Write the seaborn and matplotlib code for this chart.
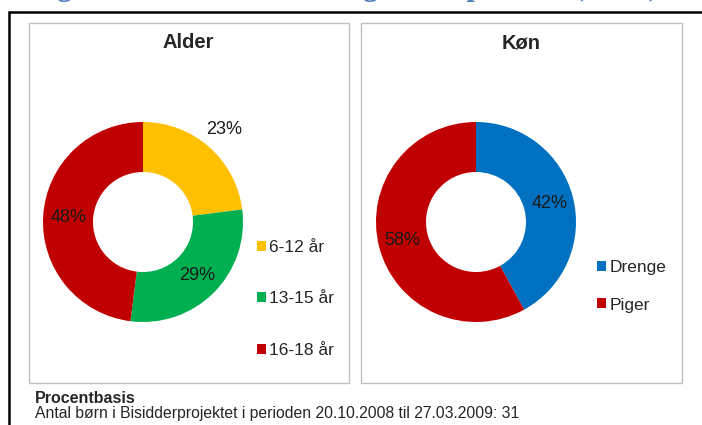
import numpy as np
import matplotlib.pyplot as plt
from matplotlib.patches import Rectangle
from matplotlib.lines import Line2D
import seaborn as sns

# data (percent of 31 children)
AGE_GROUPS = ["6-12 år", "13-15 år", "16-18 år"]
AGE_SHARES = [23, 29, 48]
GENDER_GROUPS = ["Drenge", "Piger"]
GENDER_SHARES = [42, 58]

AGE_COLORS = ["#FFC000", "#00B050", "#C00000"]
GENDER_COLORS = ["#0070C0", "#C00000"]

HEADING = "Figur 2: Børnenes alder og køn, i procent (n=31), fordelt på alder og køn (antal)"
NOTE_TITLE = "Procentbasis"
NOTE_TEXT = "Antal børn i Bisidderprojektet i perioden 20.10.2008 til 27.03.2009: 31"

W, H = 702, 425
OUTPUT_PATH = "out.png"


def fx(px):
    return px / W


def fy(py):
    return 1 - py / H


def draw_donut(fig, cx, cy, values, labels, colors, label_r, legend_xy, spacing):
    # square axes, 1 data unit = 100 px
    ax = fig.add_axes([fx(cx - 150), fy(cy + 150), 300 / W, 300 / H])
    wedges, _ = ax.pie(
        values,
        colors=colors,
        startangle=90,
        counterclock=False,
        radius=1,
        wedgeprops=dict(width=0.5, linewidth=0),
    )
    ax.set_xlim(-1.5, 1.5)
    ax.set_ylim(-1.5, 1.5)
    ax.axis("off")

    for w, v, r in zip(wedges, values, label_r):
        ang = np.deg2rad((w.theta1 + w.theta2) / 2)
        ax.text(r * np.cos(ang), r * np.sin(ang), f"{v}%",
                ha="center", va="center", fontsize=13, color="#1a1a1a")

    ax.legend(
        wedges, labels,
        loc="upper left",
        bbox_to_anchor=(fx(legend_xy[0]), fy(legend_xy[1])),
        bbox_transform=fig.transFigure,
        frameon=False,
        borderpad=0,
        borderaxespad=0,
        handlelength=0.5,
        handleheight=0.5,
        handletextpad=0.2,
        labelspacing=spacing,
        fontsize=12.5,
    )
    return ax


def main() -> None:
    sns.set_theme(style="white")
    plt.rcParams["font.family"] = ["Liberation Sans", "DejaVu Sans"]

    fig = plt.figure(figsize=(W / 100, H / 100), dpi=100)
    fig.patch.set_facecolor("white")

    # heading of the page, cut off by the top edge (only descenders show)
    fig.text(fx(30), fy(-5), HEADING, color="#4F81BD", fontsize=22,
             fontweight="bold", family=["Liberation Serif", "DejaVu Serif"],
             va="baseline", ha="left")

    # outer black frame (top + left)
    fig.add_artist(Line2D([fx(9), fx(9)], [0, fy(12)], color="black", lw=1.8,
                          transform=fig.transFigure))
    fig.add_artist(Line2D([fx(9), 1], [fy(12), fy(12)], color="black", lw=1.8,
                          transform=fig.transFigure))

    # chart boxes
    for x0, x1 in [(29, 349), (361, 682)]:
        fig.add_artist(Rectangle((fx(x0), fy(383)), (x1 - x0) / W, 360 / H,
                                 transform=fig.transFigure, fill=False,
                                 edgecolor="#BFBFBF", lw=1))

    fig.text(fx(188), fy(43), "Alder", ha="center", va="center",
             fontsize=14.5, fontweight="bold")
    fig.text(fx(521), fy(43), "Køn", ha="center", va="center",
             fontsize=14.5, fontweight="bold")

    draw_donut(fig, 143, 222, AGE_SHARES, AGE_GROUPS, AGE_COLORS,
               [1.23, 0.76, 0.75], (257, 240), 2.1)
    draw_donut(fig, 476, 222, GENDER_SHARES, GENDER_GROUPS, GENDER_COLORS,
               [0.76, 0.76], (597, 260), 1.3)

    fig.text(fx(35), fy(403), NOTE_TITLE, fontsize=11.5, fontweight="bold",
             va="baseline")
    fig.text(fx(35), fy(418), NOTE_TEXT, fontsize=11.3, va="baseline")

    fig.savefig(OUTPUT_PATH, dpi=100, facecolor="white")


if __name__ == "__main__":
    main()
